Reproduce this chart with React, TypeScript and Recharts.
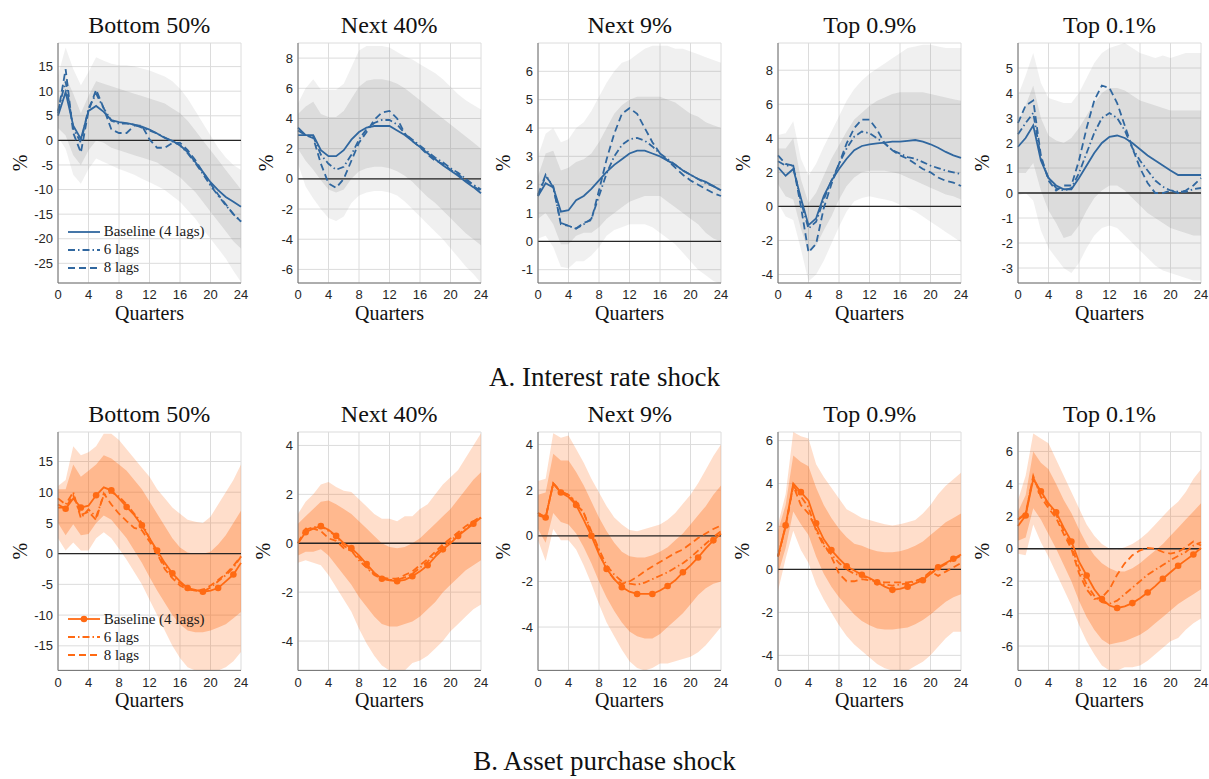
import React from "react";
import { ComposedChart, Line, Area, XAxis, YAxis, CartesianGrid, ReferenceLine, Legend } from "recharts";

const quarters = [0, 1, 2, 3, 4, 5, 6, 7, 8, 9, 10, 11, 12, 13, 14, 15, 16, 17, 18, 19, 20, 21, 22, 23, 24];
const xTicks = [0, 4, 8, 12, 16, 20, 24];
const seriesNames = ["Baseline (4 lags)", "6 lags", "8 lags"];
const groupTitles = ["Bottom 50%", "Next 40%", "Next 9%", "Top 0.9%", "Top 0.1%"];
const shockTitles = ["A. Interest rate shock", "B. Asset purchase shock"];

// ---- A. Interest rate shock ----
const irB50Base = [5.0, 9.8, 3.0, 0.3, 6.0, 7.0, 5.8, 4.1, 3.7, 3.5, 3.2, 2.8, 2.2, 1.4, 0.5, -0.1, -1.0, -2.4, -4.4, -6.4, -8.5, -10.1, -11.5, -12.5, -13.5];
const irB50Lag6 = [6.0, 12.0, 2.5, -0.5, 6.5, 9.5, 6.5, 4.0, 3.4, 3.4, 3.2, 2.6, 2.0, 1.4, 0.6, -0.2, -1.0, -2.6, -4.6, -6.8, -9.2, -11.2, -13.2, -15.0, -16.5];
const irB50Lag8 = [5.5, 14.5, 1.5, -2.5, 6.0, 10.3, 6.5, 2.2, 1.5, 1.5, 3.0, 3.0, 0.2, -1.5, -1.5, -0.5, -0.5, -2.0, -4.0, -6.5, -8.8, -11.0, -13.0, -15.0, -16.5];
const irB50Hi90 = [13.2, 18.9, 14.5, 11.2, 13.9, 16.9, 16.2, 15.6, 15.3, 15.3, 15.0, 14.6, 14.2, 13.6, 13.0, 12.0, 10.5, 8.5, 6.0, 3.5, 1.0, -1.5, -3.5, -5.0, -6.0];
const irB50Lo90 = [0.7, -1.7, -7.0, -8.8, -5.8, -3.7, -4.4, -5.1, -5.8, -6.4, -7.0, -7.8, -8.5, -9.3, -10.1, -11.3, -12.5, -14.2, -15.9, -18.0, -20.0, -22.0, -24.0, -26.5, -28.8];
const irB50Hi68 = [8.0, 13.0, 9.5, 5.5, 9.0, 12.0, 11.5, 11.0, 10.5, 10.0, 9.5, 9.0, 8.5, 8.0, 7.5, 6.5, 5.5, 4.0, 2.0, 0.0, -2.0, -4.0, -6.0, -8.0, -10.0];
const irB50Lo68 = [2.5, 1.0, -3.0, -5.0, -2.0, 0.0, -0.5, -1.5, -2.0, -2.5, -3.0, -3.5, -4.0, -4.5, -5.5, -6.5, -7.5, -9.0, -10.5, -12.5, -14.5, -16.5, -18.5, -20.5, -22.0];
const irB50Ticks = [-25, -20, -15, -10, -5, 0, 5, 10, 15];

const irN40Base = [3.4, 2.9, 2.9, 1.9, 1.5, 1.5, 1.9, 2.6, 3.1, 3.4, 3.5, 3.5, 3.5, 3.2, 2.9, 2.5, 2.1, 1.7, 1.3, 0.9, 0.55, 0.2, -0.2, -0.55, -0.95];
const irN40Lag6 = [2.9, 2.9, 2.8, 1.6, 1.0, 0.6, 0.8, 1.6, 2.6, 3.3, 3.7, 3.9, 3.9, 3.6, 3.0, 2.6, 2.2, 1.8, 1.4, 1.1, 0.7, 0.4, 0.0, -0.4, -0.7];
const irN40Lag8 = [3.2, 2.9, 2.7, 1.0, -0.3, -0.6, 0.0, 1.2, 2.4, 3.1, 3.9, 4.4, 4.5, 4.0, 3.0, 2.5, 2.1, 1.6, 1.2, 1.0, 0.6, 0.3, -0.1, -0.5, -0.8];
const irN40Hi90 = [5.0, 6.0, 6.6, 5.9, 5.9, 5.9, 6.3, 7.4, 8.5, 8.8, 8.8, 8.8, 8.7, 8.4, 8.1, 7.9, 7.6, 7.3, 7.0, 6.6, 6.1, 5.6, 5.2, 4.9, 4.6];
const irN40Lo90 = [1.0, -0.5, -1.3, -2.0, -2.6, -2.8, -2.5, -1.6, -1.1, -0.9, -0.8, -0.8, -0.9, -1.1, -1.5, -2.0, -2.5, -3.0, -3.5, -4.0, -4.6, -5.2, -5.8, -6.3, -6.9];
const irN40Hi68 = [4.3, 4.8, 5.1, 4.3, 4.1, 4.1, 4.5, 5.3, 6.1, 6.5, 6.6, 6.6, 6.5, 6.3, 6.0, 5.6, 5.2, 4.8, 4.4, 4.0, 3.6, 3.2, 2.8, 2.4, 2.0];
const irN40Lo68 = [2.0, 1.2, 0.6, -0.1, -0.7, -0.9, -0.7, 0.0, 0.5, 0.7, 0.8, 0.8, 0.7, 0.5, 0.2, -0.2, -0.7, -1.2, -1.6, -2.1, -2.6, -3.1, -3.6, -4.0, -4.4];
const irN40Ticks = [-6, -4, -2, 0, 2, 4, 6, 8];

const irN9Base = [1.6, 2.05, 1.9, 1.05, 1.1, 1.45, 1.6, 1.85, 2.15, 2.45, 2.7, 2.9, 3.1, 3.2, 3.2, 3.1, 3.0, 2.85, 2.7, 2.5, 2.35, 2.2, 2.1, 1.95, 1.8];
const irN9Lag6 = [1.65, 2.35, 1.9, 0.65, 0.55, 0.45, 0.6, 0.8, 1.6, 2.4, 3.0, 3.4, 3.6, 3.65, 3.55, 3.35, 3.1, 2.9, 2.7, 2.5, 2.35, 2.2, 2.05, 1.95, 1.8];
const irN9Lag8 = [1.6, 2.3, 1.95, 0.6, 0.55, 0.45, 0.65, 0.75, 1.8, 2.9, 3.8, 4.5, 4.7, 4.5, 4.0, 3.5, 3.1, 2.85, 2.6, 2.35, 2.15, 2.0, 1.85, 1.7, 1.6];
const irN9Hi90 = [3.0, 3.8, 4.0, 3.5, 3.6, 4.0, 4.2, 4.6, 5.1, 5.6, 6.0, 6.3, 6.4, 6.6, 6.8, 6.9, 6.9, 6.9, 6.8, 6.8, 6.7, 6.6, 6.5, 6.4, 6.3];
const irN9Lo90 = [0.1, 0.2, -0.2, -0.9, -0.95, -0.7, -0.7, -0.5, -0.2, 0.2, 0.4, 0.5, 0.6, 0.6, 0.6, 0.5, 0.3, 0.1, -0.1, -0.4, -0.7, -1.0, -1.2, -1.4, -1.5];
const irN9Hi68 = [2.3, 3.1, 3.2, 2.5, 2.6, 2.8, 2.9, 3.1, 3.5, 4.0, 4.5, 4.8, 5.0, 5.1, 5.1, 5.1, 5.1, 5.0, 4.9, 4.7, 4.5, 4.4, 4.2, 4.1, 4.0];
const irN9Lo68 = [0.8, 1.0, 0.6, -0.1, -0.1, 0.2, 0.3, 0.3, 0.5, 0.8, 1.0, 1.2, 1.4, 1.5, 1.6, 1.6, 1.6, 1.4, 1.2, 1.0, 0.8, 0.6, 0.3, 0.1, 0.0];
const irN9Ticks = [-1, 0, 1, 2, 3, 4, 5, 6];

const irT09Base = [2.3, 1.8, 2.2, 0.5, -1.1, -0.7, 0.6, 1.5, 2.2, 2.8, 3.3, 3.55, 3.65, 3.7, 3.75, 3.8, 3.8, 3.85, 3.9, 3.8, 3.65, 3.45, 3.2, 3.0, 2.85];
const irT09Lag6 = [2.65, 2.4, 2.4, 0.3, -1.3, -0.9, 0.4, 1.5, 2.5, 3.4, 4.1, 4.4, 4.3, 4.0, 3.7, 3.3, 3.1, 2.9, 2.8, 2.6, 2.4, 2.25, 2.1, 2.0, 1.9];
const irT09Lag8 = [3.0, 2.5, 2.4, 0.0, -2.7, -2.2, -0.1, 1.3, 2.5, 3.7, 4.6, 5.1, 5.1, 4.5, 3.7, 3.3, 3.0, 2.8, 2.5, 2.2, 2.0, 1.7, 1.5, 1.4, 1.2];
const irT09Hi90 = [4.2, 4.3, 5.0, 2.8, 1.8, 2.5, 3.5, 4.4, 5.3, 6.2, 6.9, 7.4, 7.8, 8.1, 8.4, 8.7, 9.0, 9.3, 9.4, 9.5, 9.5, 9.4, 9.3, 9.3, 9.3];
const irT09Lo90 = [0.2, -0.6, -0.8, -2.5, -4.4, -4.0, -3.2, -2.2, -1.2, -0.3, 0.3, 0.5, 0.6, 0.5, 0.4, 0.3, 0.1, -0.1, -0.3, -0.6, -0.9, -1.2, -1.5, -1.8, -2.1];
const irT09Hi68 = [3.4, 3.4, 4.0, 1.6, 0.2, 0.8, 1.8, 2.8, 3.6, 4.4, 5.1, 5.5, 5.9, 6.2, 6.4, 6.6, 6.7, 6.7, 6.7, 6.7, 6.6, 6.5, 6.4, 6.3, 6.2];
const irT09Lo68 = [1.3, 0.6, 0.4, -1.3, -2.7, -2.3, -1.4, -0.6, 0.4, 1.2, 1.7, 2.0, 2.1, 2.1, 2.1, 2.0, 1.9, 1.7, 1.5, 1.3, 1.1, 0.9, 0.7, 0.6, 0.4];
const irT09Ticks = [-4, -2, 0, 2, 4, 6, 8];

const irT01Base = [1.85, 2.2, 2.7, 1.3, 0.6, 0.3, 0.15, 0.15, 0.6, 1.1, 1.6, 2.0, 2.25, 2.3, 2.2, 2.0, 1.75, 1.5, 1.3, 1.1, 0.9, 0.72, 0.72, 0.72, 0.72];
const irT01Lag6 = [2.35, 2.8, 3.2, 1.4, 0.6, 0.2, 0.1, 0.2, 0.8, 1.6, 2.4, 3.0, 3.2, 3.0, 2.5, 1.8, 1.3, 0.9, 0.5, 0.25, 0.1, 0.05, 0.05, 0.15, 0.2];
const irT01Lag8 = [2.8, 3.5, 3.7, 1.5, 0.5, 0.1, 0.3, 0.3, 1.3, 2.6, 3.7, 4.3, 4.2, 3.6, 2.7, 1.8, 1.0, 0.4, 0.0, 0.0, 0.1, 0.0, 0.1, 0.3, 0.6];
const irT01Hi90 = [3.9, 4.7, 5.6, 4.4, 3.8, 3.7, 3.6, 3.6, 4.0, 4.6, 5.2, 5.6, 5.8, 5.9, 6.0, 5.8, 5.6, 5.5, 5.4, 5.5, 5.4, 5.5, 5.6, 5.6, 5.6];
const irT01Lo90 = [-0.1, 0.0, -0.3, -1.5, -2.2, -2.6, -3.0, -3.2, -2.8, -2.2, -1.7, -1.4, -1.3, -1.4, -1.7, -2.0, -2.3, -2.6, -2.9, -3.1, -3.2, -3.3, -3.4, -3.5, -3.5];
const irT01Hi68 = [2.8, 3.5, 4.3, 3.0, 2.3, 2.1, 2.0, 2.2, 2.6, 3.1, 3.6, 4.0, 4.2, 4.2, 4.1, 3.9, 3.7, 3.6, 3.5, 3.4, 3.3, 3.3, 3.3, 3.3, 3.3];
const irT01Lo68 = [0.8, 0.8, 1.2, 0.1, -0.7, -1.2, -1.8, -1.7, -1.3, -0.7, -0.2, 0.1, 0.3, 0.3, 0.1, -0.2, -0.5, -0.8, -1.0, -1.2, -1.4, -1.5, -1.6, -1.7, -1.7];
const irT01Ticks = [-3, -2, -1, 0, 1, 2, 3, 4, 5];

// ---- B. Asset purchase shock ----
const apB50Base = [8.0, 7.3, 9.0, 7.5, 7.8, 9.5, 10.8, 10.3, 9.0, 7.6, 6.3, 4.6, 2.5, 0.5, -1.5, -3.2, -4.5, -5.6, -5.9, -6.2, -6.0, -5.6, -4.5, -3.4, -1.5];
const apB50Lag6 = [9.0, 8.0, 10.0, 5.8, 7.2, 6.0, 9.5, 10.0, 9.3, 8.0, 6.5, 5.0, 2.5, 0.2, -2.0, -3.5, -4.8, -5.7, -6.0, -6.2, -5.5, -4.5, -3.5, -2.3, -0.5];
const apB50Lag8 = [7.5, 7.5, 9.5, 6.3, 6.8, 5.5, 9.8, 8.0, 6.5, 5.3, 4.2, 3.8, 2.0, 0.0, -2.5, -4.0, -5.2, -5.8, -6.0, -5.9, -5.2, -4.3, -3.3, -2.0, -0.4];
const apB50Hi90 = [11.0, 12.0, 17.5, 16.0, 16.5, 17.5, 19.5, 19.5, 18.5, 17.0, 15.5, 14.0, 12.5, 10.5, 9.0, 7.5, 6.5, 5.5, 5.2, 5.0, 6.0, 8.0, 10.0, 12.0, 14.5];
const apB50Lo90 = [2.5, 0.5, 1.8, 0.5, 0.5, 2.5, 3.5, 2.5, 0.8, -1.0, -3.0, -5.0, -7.5, -10.0, -12.5, -15.0, -17.0, -18.5, -19.0, -19.5, -19.5, -19.0, -18.5, -17.5, -16.0];
const apB50Hi68 = [10.5, 10.5, 14.5, 12.5, 13.5, 14.5, 16.0, 15.5, 14.5, 13.5, 12.0, 10.5, 8.5, 6.5, 4.5, 2.5, 1.0, 0.2, 0.0, 0.0, 0.3, 1.5, 3.0, 5.0, 7.0];
const apB50Lo68 = [5.0, 3.0, 4.8, 3.0, 3.2, 5.0, 6.2, 5.5, 4.0, 2.5, 0.5, -1.5, -3.8, -6.0, -8.0, -10.0, -11.5, -12.5, -12.8, -12.8, -12.5, -12.0, -11.5, -10.5, -9.5];
const apB50Ticks = [-15, -10, -5, 0, 5, 10, 15];

const apN40Base = [0.0, 0.45, 0.6, 0.7, 0.55, 0.3, 0.0, -0.2, -0.5, -0.85, -1.2, -1.45, -1.52, -1.55, -1.5, -1.35, -1.15, -0.9, -0.55, -0.25, 0.0, 0.3, 0.55, 0.8, 1.05];
const apN40Lag6 = [0.0, 0.55, 0.65, 0.7, 0.5, 0.3, -0.1, -0.3, -0.7, -1.0, -1.3, -1.45, -1.5, -1.5, -1.4, -1.25, -1.0, -0.75, -0.45, -0.15, 0.1, 0.35, 0.6, 0.85, 1.05];
const apN40Lag8 = [0.0, 0.6, 0.6, 0.5, 0.2, 0.1, -0.2, -0.3, -0.6, -0.95, -1.25, -1.4, -1.45, -1.45, -1.3, -1.15, -0.9, -0.65, -0.35, -0.05, 0.2, 0.45, 0.7, 0.9, 1.1];
const apN40Hi90 = [1.2, 1.7, 2.0, 2.4, 2.5, 2.3, 2.15, 2.1, 1.8, 1.5, 1.2, 1.0, 1.0, 0.9, 1.1, 1.1, 1.4, 1.6, 2.0, 2.4, 2.7, 3.0, 3.5, 4.0, 4.5];
const apN40Lo90 = [-0.8, -0.7, -0.8, -0.9, -1.3, -1.8, -2.3, -2.8, -3.5, -4.1, -4.6, -5.0, -5.2, -5.3, -5.2, -4.9, -4.8, -4.6, -4.3, -4.0, -3.6, -3.3, -3.0, -2.7, -2.5];
const apN40Hi68 = [0.8, 1.1, 1.4, 1.7, 1.75, 1.6, 1.4, 1.2, 0.9, 0.6, 0.3, 0.0, -0.15, -0.2, -0.15, 0.0, 0.2, 0.5, 0.8, 1.1, 1.4, 1.8, 2.2, 2.6, 2.9];
const apN40Lo68 = [-0.5, -0.35, -0.35, -0.25, -0.5, -0.9, -1.3, -1.7, -2.2, -2.6, -3.0, -3.3, -3.4, -3.4, -3.3, -3.2, -3.0, -2.7, -2.4, -2.0, -1.7, -1.4, -1.1, -0.9, -0.7];
const apN40Ticks = [-4, -2, 0, 2, 4];

const apN9Base = [1.0, 0.8, 2.3, 1.9, 1.7, 1.35, 0.7, 0.0, -0.8, -1.45, -1.9, -2.25, -2.45, -2.55, -2.55, -2.55, -2.4, -2.2, -1.95, -1.6, -1.3, -0.95, -0.55, -0.2, 0.1];
const apN9Lag6 = [1.0, 0.8, 2.3, 1.95, 1.8, 1.5, 1.0, 0.2, -0.6, -1.3, -1.7, -2.0, -2.1, -2.15, -2.05, -1.9, -1.75, -1.6, -1.4, -1.2, -0.95, -0.65, -0.35, -0.05, 0.2];
const apN9Lag8 = [0.9, 0.8, 2.3, 1.9, 1.8, 1.4, 1.0, 0.1, -0.7, -1.5, -1.9, -2.1, -2.0, -1.8, -1.55, -1.35, -1.15, -0.95, -0.75, -0.6, -0.35, -0.1, 0.1, 0.3, 0.45];
const apN9Hi90 = [2.4, 2.5, 4.5, 4.3, 4.4, 3.8, 3.2, 2.5, 1.9, 1.3, 0.8, 0.5, 0.25, 0.2, 0.3, 0.4, 0.5, 0.7, 1.0, 1.4, 1.8, 2.3, 2.9, 3.5, 4.0];
const apN9Lo90 = [-0.2, -1.1, 0.3, -0.2, -0.2, -0.6, -1.3, -2.1, -3.0, -3.8, -4.4, -5.0, -5.5, -5.8, -5.9, -5.8, -5.6, -5.6, -5.5, -5.4, -5.3, -5.1, -4.8, -4.4, -4.0];
const apN9Hi68 = [1.8, 1.9, 3.6, 3.3, 3.3, 2.8, 2.2, 1.5, 0.8, 0.2, -0.3, -0.7, -0.9, -0.95, -0.95, -0.85, -0.7, -0.5, -0.2, 0.1, 0.5, 0.9, 1.3, 1.8, 2.2];
const apN9Lo68 = [0.3, -0.3, 1.0, 0.6, 0.5, 0.1, -0.5, -1.2, -2.0, -2.7, -3.3, -3.8, -4.2, -4.4, -4.5, -4.5, -4.3, -4.0, -3.7, -3.4, -3.0, -2.6, -2.3, -2.1, -2.0];
const apN9Ticks = [-4, -2, 0, 2, 4];

const apT09Base = [0.6, 2.05, 4.0, 3.6, 3.2, 2.15, 1.4, 0.9, 0.5, 0.15, -0.05, -0.25, -0.4, -0.6, -0.8, -0.95, -0.9, -0.8, -0.65, -0.5, -0.2, 0.1, 0.3, 0.5, 0.7];
const apT09Lag6 = [0.6, 2.0, 3.9, 3.4, 2.9, 1.8, 1.1, 0.7, 0.3, 0.0, -0.2, -0.3, -0.45, -0.6, -0.7, -0.75, -0.7, -0.65, -0.55, -0.4, -0.2, 0.05, 0.25, 0.45, 0.65];
const apT09Lag8 = [0.6, 2.0, 3.9, 3.0, 2.6, 1.9, 1.2, 0.6, -0.2, -0.55, -0.55, -0.45, -0.5, -0.55, -0.6, -0.6, -0.6, -0.6, -0.55, -0.4, -0.1, -0.3, -0.1, 0.1, 0.3];
const apT09Hi90 = [2.1, 3.5, 6.4, 6.2, 6.1, 4.9, 4.3, 3.8, 3.3, 2.8, 2.6, 2.4, 2.3, 2.2, 2.1, 2.05, 2.1, 2.2, 2.3, 2.6, 3.0, 3.5, 3.9, 4.2, 4.5];
const apT09Lo90 = [-1.0, 0.5, 1.8, 0.9, 0.3, -0.7, -1.4, -2.0, -2.6, -3.1, -3.5, -3.8, -4.1, -4.4, -4.6, -4.7, -4.7, -4.7, -4.5, -4.3, -4.0, -3.6, -3.2, -2.9, -2.9];
const apT09Hi68 = [1.8, 3.0, 5.3, 5.0, 4.8, 3.8, 3.0, 2.4, 1.9, 1.5, 1.2, 1.1, 0.95, 0.85, 0.8, 0.8, 0.85, 0.95, 1.1, 1.3, 1.6, 1.9, 2.2, 2.4, 2.6];
const apT09Lo68 = [-0.2, 1.0, 2.7, 2.1, 1.6, 0.6, -0.2, -0.8, -1.3, -1.7, -2.1, -2.4, -2.6, -2.75, -2.8, -2.8, -2.75, -2.7, -2.55, -2.35, -2.1, -1.8, -1.5, -1.3, -1.15];
const apT09Ticks = [-4, -2, 0, 2, 4, 6];

const apT01Base = [1.4, 2.05, 4.3, 3.55, 2.8, 2.25, 1.3, 0.45, -0.8, -1.65, -2.5, -3.1, -3.5, -3.65, -3.55, -3.35, -3.05, -2.7, -2.3, -1.85, -1.45, -1.05, -0.7, -0.35, 0.05];
const apT01Lag6 = [1.8, 2.2, 4.4, 3.4, 2.7, 2.1, 1.1, 0.2, -1.2, -2.2, -2.9, -3.3, -3.4, -3.2, -2.8, -2.4, -2.0, -1.6, -1.3, -1.0, -0.7, -0.45, -0.2, 0.2, 0.4];
const apT01Lag8 = [1.8, 2.1, 4.5, 3.2, 2.5, 1.9, 0.9, 0.0, -1.5, -2.5, -3.1, -3.0, -2.5, -1.6, -0.9, -0.4, -0.1, 0.05, 0.0, -0.2, -0.3, -0.2, 0.1, 0.45, 0.2];
const apT01Hi90 = [3.0, 4.5, 7.1, 6.8, 6.5, 5.5, 4.5, 3.5, 2.5, 1.5, 0.8, 0.3, 0.0, -0.05, 0.1, 0.3, 0.6, 1.0, 1.5, 2.0, 2.5, 2.9, 3.5, 4.3, 4.9];
const apT01Lo90 = [-0.3, -0.4, 1.5, 0.4, -0.5, -1.5, -2.5, -3.5, -4.7, -5.7, -6.5, -7.2, -7.5, -7.5, -7.3, -7.3, -7.2, -6.9, -6.5, -6.1, -5.7, -5.5, -5.0, -4.6, -4.3];
const apT01Hi68 = [2.3, 3.3, 6.0, 5.3, 4.9, 4.0, 3.0, 2.2, 1.2, 0.3, -0.4, -0.9, -1.2, -1.4, -1.4, -1.2, -0.9, -0.5, -0.1, 0.3, 0.8, 1.3, 1.8, 2.3, 2.8];
const apT01Lo68 = [0.5, 0.7, 2.5, 1.8, 0.9, 0.0, -1.0, -2.0, -3.2, -4.2, -5.0, -5.6, -5.9, -5.8, -5.7, -5.5, -5.3, -5.0, -4.6, -4.2, -3.8, -3.4, -3.1, -2.8, -2.5];
const apT01Ticks = [-6, -4, -2, 0, 2, 4, 6];

const irPanels = [
  { base: irB50Base, lag6: irB50Lag6, lag8: irB50Lag8, hi90: irB50Hi90, lo90: irB50Lo90, hi68: irB50Hi68, lo68: irB50Lo68, ticks: irB50Ticks, domain: [-29, 19.8] },
  { base: irN40Base, lag6: irN40Lag6, lag8: irN40Lag8, hi90: irN40Hi90, lo90: irN40Lo90, hi68: irN40Hi68, lo68: irN40Lo68, ticks: irN40Ticks, domain: [-6.9, 9] },
  { base: irN9Base, lag6: irN9Lag6, lag8: irN9Lag8, hi90: irN9Hi90, lo90: irN9Lo90, hi68: irN9Hi68, lo68: irN9Lo68, ticks: irN9Ticks, domain: [-1.47, 7] },
  { base: irT09Base, lag6: irT09Lag6, lag8: irT09Lag8, hi90: irT09Hi90, lo90: irT09Lo90, hi68: irT09Hi68, lo68: irT09Lo68, ticks: irT09Ticks, domain: [-4.5, 9.6] },
  { base: irT01Base, lag6: irT01Lag6, lag8: irT01Lag8, hi90: irT01Hi90, lo90: irT01Lo90, hi68: irT01Hi68, lo68: irT01Lo68, ticks: irT01Ticks, domain: [-3.6, 6] },
];

const apPanels = [
  { base: apB50Base, lag6: apB50Lag6, lag8: apB50Lag8, hi90: apB50Hi90, lo90: apB50Lo90, hi68: apB50Hi68, lo68: apB50Lo68, ticks: apB50Ticks, domain: [-19, 19.8] },
  { base: apN40Base, lag6: apN40Lag6, lag8: apN40Lag8, hi90: apN40Hi90, lo90: apN40Lo90, hi68: apN40Hi68, lo68: apN40Lo68, ticks: apN40Ticks, domain: [-5.2, 4.55] },
  { base: apN9Base, lag6: apN9Lag6, lag8: apN9Lag8, hi90: apN9Hi90, lo90: apN9Lo90, hi68: apN9Hi68, lo68: apN9Lo68, ticks: apN9Ticks, domain: [-5.9, 4.55] },
  { base: apT09Base, lag6: apT09Lag6, lag8: apT09Lag8, hi90: apT09Hi90, lo90: apT09Lo90, hi68: apT09Hi68, lo68: apT09Lo68, ticks: apT09Ticks, domain: [-4.7, 6.4] },
  { base: apT01Base, lag6: apT01Lag6, lag8: apT01Lag8, hi90: apT01Hi90, lo90: apT01Lo90, hi68: apT01Hi68, lo68: apT01Lo68, ticks: apT01Ticks, domain: [-7.5, 7.2] },
];

// layout
const SERIF = "'Liberation Serif', 'Times New Roman', serif";
const SANS = "'Liberation Sans', Arial, sans-serif";
const BLUE = "#30679f";
const ORANGE = "#ff6a13";
const BOX = "#6e6e6e";
const PLOT_W = 183;
const RIGHT_PAD = 14;
const plotLefts = [57.7, 297.7, 538.3, 778.3, 1018];
const irGaps = [38, 32, 35, 35, 36];
const apGaps = [38, 35, 35, 36.5, 36];
const dashes = ["", "7 3 1.5 3", "7 4"];

type Spec = (typeof irPanels)[number];

function LegendBox({ color, markers }: { color: string; markers: boolean }) {
  return (
    <div style={{ fontFamily: SERIF, fontSize: 15, color: "#1a1a1a" }}>
      {seriesNames.map((name, i) => (
        <div key={name} style={{ display: "flex", alignItems: "center", height: 18 }}>
          <svg width={34} height={18}>
            <line x1={1} x2={33} y1={9} y2={9} stroke={color} strokeWidth={1.8} strokeDasharray={dashes[i] || undefined} />
            {markers && i === 0 && <circle cx={17} cy={9} r={3.3} fill={color} />}
          </svg>
          <span style={{ marginLeft: 3, whiteSpace: "nowrap" }}>{name}</span>
        </div>
      ))}
    </div>
  );
}

function Panel({ spec, title, left, top, plotH, gap, color, shade, shadeOpacity, showLegend, markers }: {
  spec: Spec; title: string; left: number; top: number; plotH: number; gap: number; color: string;
  shade: string; shadeOpacity: number; showLegend: boolean; markers: boolean;
}) {
  const yw = gap * 2;
  const rows = quarters.map((q, i) => ({
    q,
    base: spec.base[i],
    lag6: spec.lag6[i],
    lag8: spec.lag8[i],
    band90: [spec.lo90[i], spec.hi90[i]],
    band68: [spec.lo68[i], spec.hi68[i]],
  }));
  const dot = (p: any) =>
    p.index % 2 === 1 ? <circle key={`d${p.index}`} cx={p.cx} cy={p.cy} r={3.3} fill={color} /> : <g key={`d${p.index}`} />;

  return (
    <>
      <div style={{ position: "absolute", left, top: top - 30, width: PLOT_W, textAlign: "center", fontFamily: SERIF, fontSize: 24, lineHeight: "24px", color: "#111" }}>
        {title}
      </div>
      <div style={{ position: "absolute", left: left - yw, top: top - 4 }}>
        <ComposedChart width={yw + PLOT_W + RIGHT_PAD} height={plotH + 4 + 48} data={rows} margin={{ top: 4, right: RIGHT_PAD, bottom: 0, left: 0 }}>
          <CartesianGrid stroke="#dcdcdc" strokeWidth={1} />
          <XAxis dataKey="q" type="number" domain={[0, 24]} ticks={xTicks} interval={0} height={48}
            tick={{ fontSize: 13, fill: "#262626", fontFamily: SANS }} tickLine={false} tickSize={0} tickMargin={7}
            axisLine={{ stroke: BOX }}
            label={{ value: "Quarters", position: "insideBottom", offset: 11, style: { fontFamily: SERIF, fontSize: 20, fill: "#111" } }} />
          <XAxis xAxisId="top" orientation="top" dataKey="q" type="number" domain={[0, 24]} height={0} tick={false} tickLine={false} axisLine={{ stroke: BOX }} />
          <YAxis type="number" domain={spec.domain as [number, number]} ticks={spec.ticks} allowDataOverflow interval={0} width={yw}
            tick={{ fontSize: 13, fill: "#262626", fontFamily: SANS }} tickLine={false} tickSize={0} tickMargin={5}
            axisLine={{ stroke: BOX }}
            label={{ value: "%", angle: -90, position: "center", style: { fontFamily: SERIF, fontSize: 20, fill: "#111" } }} />
          <YAxis yAxisId="right" orientation="right" width={0} tick={false} tickLine={false} axisLine={{ stroke: BOX }} />
          <Area dataKey="band90" type="linear" stroke="none" fill={shade} fillOpacity={shadeOpacity} isAnimationActive={false} legendType="none" activeDot={false} />
          <Area dataKey="band68" type="linear" stroke="none" fill={shade} fillOpacity={shadeOpacity * 1.5} isAnimationActive={false} legendType="none" activeDot={false} />
          <ReferenceLine y={0} stroke="#262626" strokeWidth={1.3} />
          <Line dataKey="base" name={seriesNames[0]} type="linear" stroke={color} strokeWidth={1.8} dot={markers ? dot : false} isAnimationActive={false} />
          <Line dataKey="lag6" name={seriesNames[1]} type="linear" stroke={color} strokeWidth={1.8} strokeDasharray={dashes[1]} dot={false} isAnimationActive={false} />
          <Line dataKey="lag8" name={seriesNames[2]} type="linear" stroke={color} strokeWidth={1.8} strokeDasharray={dashes[2]} dot={false} isAnimationActive={false} />
          {showLegend && (
            <Legend layout="vertical" align="center" verticalAlign="middle"
              wrapperStyle={{ left: yw + 9, top: plotH - 56.5, width: "auto" }}
              content={() => <LegendBox color={color} markers={markers} />} />
          )}
        </ComposedChart>
      </div>
    </>
  );
}

export default function App() {
  return (
    <div style={{ position: "absolute", left: 0, top: 0, width: 1209, height: 779, background: "#fff", overflow: "hidden" }}>
      {irPanels.map((spec, i) => (
        <Panel key={`ir${i}`} spec={spec} title={groupTitles[i]} left={plotLefts[i]} top={43.3} plotH={240} gap={irGaps[i]}
          color={BLUE} shade="#8a8a8a" shadeOpacity={0.13} showLegend={i === 0} markers={false} />
      ))}
      <div style={{ position: "absolute", left: 0, width: 1209, top: 364, textAlign: "center", fontFamily: SERIF, fontSize: 27, lineHeight: "27px", color: "#111" }}>
        {shockTitles[0]}
      </div>
      {apPanels.map((spec, i) => (
        <Panel key={`ap${i}`} spec={spec} title={groupTitles[i]} left={plotLefts[i]} top={432.3} plotH={238.4} gap={apGaps[i]}
          color={ORANGE} shade={ORANGE} shadeOpacity={0.22} showLegend={i === 0} markers={true} />
      ))}
      <div style={{ position: "absolute", left: 0, width: 1209, top: 748, textAlign: "center", fontFamily: SERIF, fontSize: 27, lineHeight: "27px", color: "#111" }}>
        {shockTitles[1]}
      </div>
    </div>
  );
}
